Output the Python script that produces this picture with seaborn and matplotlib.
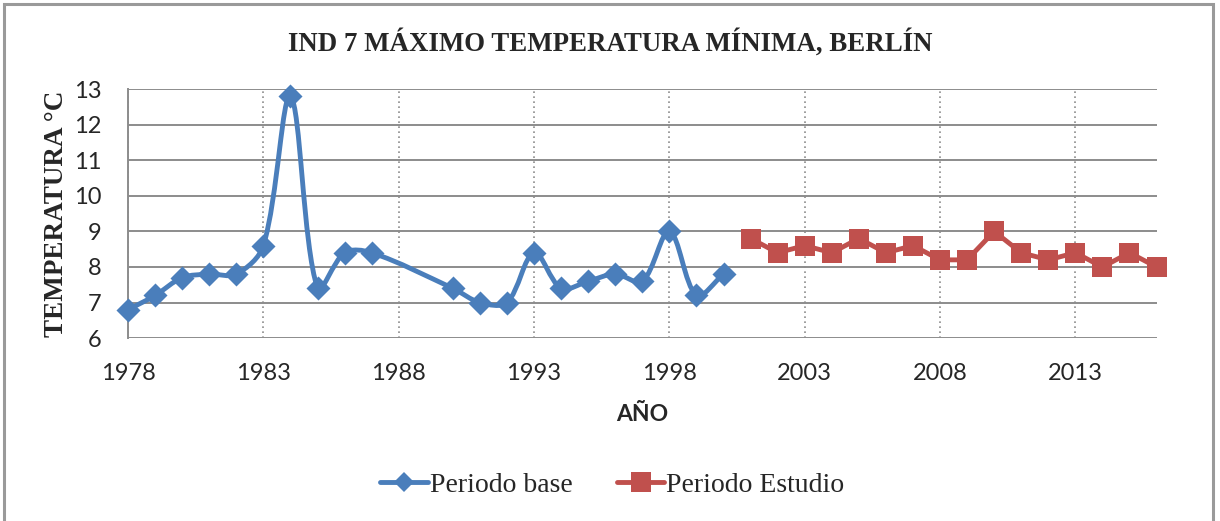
import matplotlib.pyplot as plt
import numpy as np
import pandas as pd
import seaborn as sns
from matplotlib.path import Path
from matplotlib.patches import PathPatch, Rectangle
from matplotlib.lines import Line2D

base_years = [1978, 1979, 1980, 1981, 1982, 1983, 1984, 1985, 1986, 1987,
              1990, 1991, 1992, 1993, 1994, 1995, 1996, 1997, 1998, 1999, 2000]
base_temp = [6.8, 7.2, 7.7, 7.8, 7.8, 8.6, 12.8, 7.4, 8.4, 8.4,
             7.4, 7.0, 7.0, 8.4, 7.4, 7.6, 7.8, 7.6, 9.0, 7.2, 7.8]
study_years = [2001, 2002, 2003, 2004, 2005, 2006, 2007, 2008,
               2009, 2010, 2011, 2012, 2013, 2014, 2015, 2016]
study_temp = [8.8, 8.4, 8.6, 8.4, 8.8, 8.4, 8.6, 8.2,
              8.2, 9.0, 8.4, 8.2, 8.4, 8.0, 8.4, 8.0]
x_ticks = [1978, 1983, 1988, 1993, 1998, 2003, 2008, 2013]
y_ticks = [6, 7, 8, 9, 10, 11, 12, 13]

blue = '#4a7ebb'
red = '#c0504d'
grid_gray = '#8c8c8c'

base_df = pd.DataFrame({'year': base_years, 'temp': base_temp})
study_df = pd.DataFrame({'year': study_years, 'temp': study_temp})

sns.set_style('white')
plt.rcParams['font.family'] = ['Liberation Serif', 'DejaVu Sans']

fig = plt.figure(figsize=(12.2, 5.21), dpi=100)
ax = fig.add_axes([0.105, 0.351, 0.843, 0.478])


def smooth_path(xs, ys, sx, sy):
    # excel-like smoothed line: bezier segments, tangents weighted by segment length
    pts = np.column_stack([xs, ys]).astype(float)
    scale = np.array([sx, sy])
    n = len(pts)
    verts = [pts[0]]
    codes = [Path.MOVETO]
    for i in range(n - 1):
        p0 = pts[i - 1] if i > 0 else pts[i]
        p1 = pts[i]
        p2 = pts[i + 1]
        p3 = pts[i + 2] if i + 2 < n else pts[i + 1]
        d01 = np.hypot(*((p1 - p0) * scale))
        d12 = np.hypot(*((p2 - p1) * scale))
        d23 = np.hypot(*((p3 - p2) * scale))
        f1 = d12 / (d01 + d12) / 3 if d01 + d12 > 0 else 0
        f2 = d12 / (d12 + d23) / 3 if d12 + d23 > 0 else 0
        c1 = p1 + (p2 - p0) * f1
        c2 = p2 - (p3 - p1) * f2
        verts += [c1, c2, p2]
        codes += [Path.CURVE4] * 3
    return Path(verts, codes)


ax.set_xlim(1978, 2016)
ax.set_ylim(6, 13)

path = smooth_path(base_years, base_temp, 27.1, 35.6)
ax.add_patch(PathPatch(path, facecolor='none', edgecolor=blue, lw=3.5,
                       capstyle='round', joinstyle='round', zorder=3))
sns.scatterplot(data=base_df, x='year', y='temp', marker='D', s=150,
                color=blue, linewidth=0, ax=ax, zorder=4, clip_on=False)

sns.lineplot(data=study_df, x='year', y='temp', marker='s', markersize=14,
             markeredgewidth=0, color=red, linewidth=3.5, ax=ax, zorder=4,
             clip_on=False)

ax.set_xticks(x_ticks)
ax.set_yticks(y_ticks)
ax.tick_params(axis='both', length=0, labelsize=17, labelfontfamily='Lato')
ax.tick_params(axis='y', pad=19)
ax.tick_params(axis='x', pad=18)

ax.grid(axis='y', color=grid_gray, lw=1.4, ls='-')
ax.grid(axis='x', color=grid_gray, lw=1.2, ls=(0, (1, 2)))
ax.set_axisbelow(True)
for side in ['top', 'right', 'bottom']:
    ax.spines[side].set_visible(False)
ax.spines['left'].set_color(grid_gray)
ax.spines['left'].set_linewidth(1.4)

ax.set_xlabel('AÑO', fontsize=16.5, fontweight='bold', family='Lato', labelpad=14)
ax.set_ylabel('TEMPERATURA °C', fontsize=19.5, fontweight='bold', labelpad=4)

fig.text(0.5, 0.917, 'IND 7 MÁXIMO TEMPERATURA MÍNIMA, BERLÍN',
         ha='center', va='center', fontsize=19.4, fontweight='bold')

handles = [
    Line2D([], [], color=blue, lw=3.5, marker='D', markersize=10.5, markeredgewidth=0),
    Line2D([], [], color=red, lw=3.5, marker='s', markersize=14, markeredgewidth=0),
]
fig.legend(handles, ['Periodo base', 'Periodo Estudio'], loc='center',
           bbox_to_anchor=(0.502, 0.069), ncol=2, frameon=False, fontsize=20,
           handlelength=1.7, handletextpad=0.08, columnspacing=1.6)

fig.patches.append(Rectangle((4 / 1220, -0.05), 1209 / 1220, 1.05 - 4 / 521,
                             transform=fig.transFigure, fill=False,
                             edgecolor='#9a9a9a', lw=2.2))

plt.savefig('out.png', dpi=100)
